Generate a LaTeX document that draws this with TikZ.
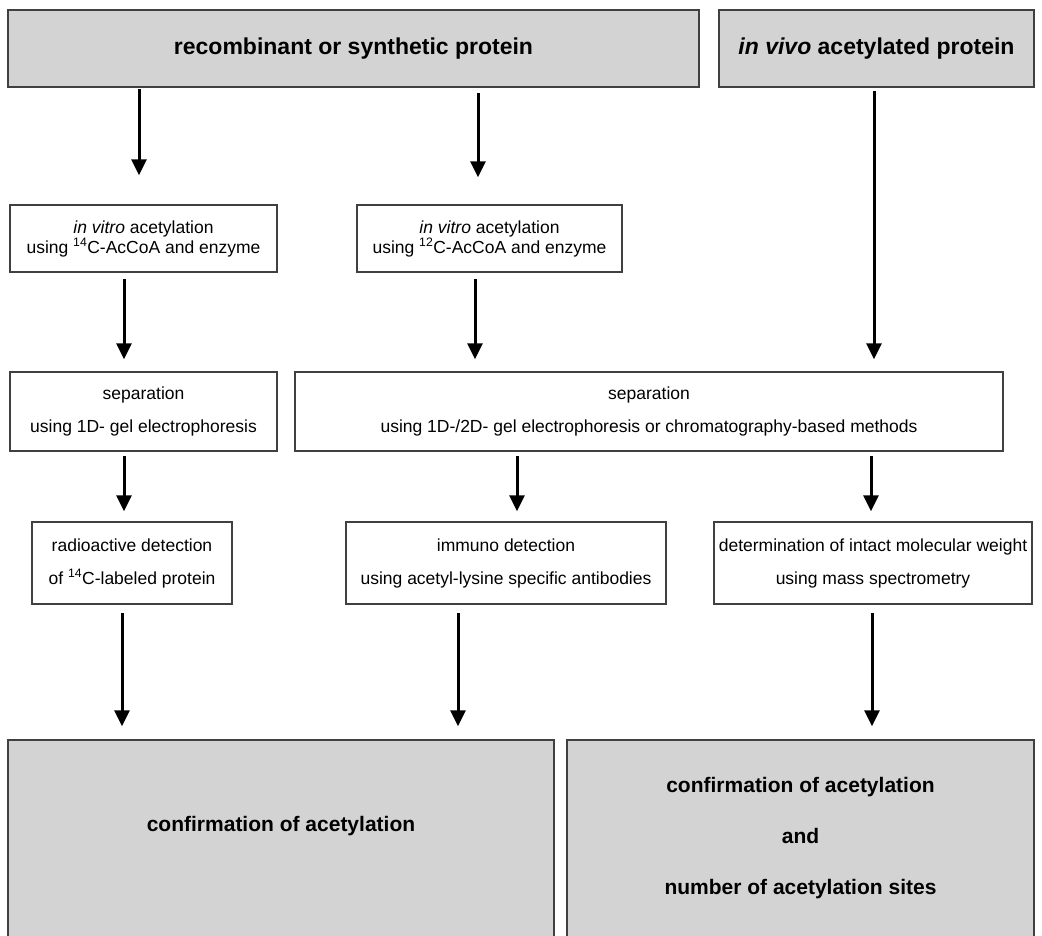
\documentclass[tikz,border=0pt]{standalone}
\usepackage{fontspec}
\setmainfont{Liberation Sans}
\usepackage{tikz}
\usetikzlibrary{arrows.meta}

\definecolor{boxline}{RGB}{64,64,64}
\definecolor{boxgrey}{RGB}{211,211,211}

\begin{document}
\begin{tikzpicture}[x=1pt,y=-1pt,
	box/.style={shape=rectangle,draw=boxline,line width=1.5pt,fill=white,align=center,inner sep=0pt,
		font=\fontsize{17.5}{20}\selectfont},
	widebox/.style={box,font=\fontsize{17.5}{33}\selectfont},
	greybox/.style={box,fill=boxgrey,font=\bfseries\fontsize{21}{51}\selectfont},
	headbox/.style={greybox,font=\bfseries\fontsize{23}{26}\selectfont},
	label/.style={align=center,inner sep=0pt,font=\bfseries\fontsize{21}{51}\selectfont},
	arr/.style={line width=3pt,-{Triangle[width=15pt,length=16pt]}}]
	\useasboundingbox (0,0) rectangle (1042,935);
	\clip (0,0) rectangle (1042,935);

	\node[headbox,minimum width=691pt,minimum height=77pt] (rec) at (353.5,48.5) {recombinant or synthetic protein};
	\node[headbox,minimum width=315pt,minimum height=77pt] (vivo) at (876.5,48.5) {\textit{in vivo} acetylated protein};

	\node[box,minimum width=267pt,minimum height=67pt] (acC14) at (143.5,238.5) {\textit{in vitro} acetylation\\using \textsuperscript{14}C-AcCoA and enzyme};
	\node[box,minimum width=265pt,minimum height=67pt] (acC12) at (489.5,238.5) {\textit{in vitro} acetylation\\using \textsuperscript{12}C-AcCoA and enzyme};

	\node[widebox,minimum width=267pt,minimum height=79pt] (sepA) at (143.5,411.5) {separation\\using 1D- gel electrophoresis};
	\node[widebox,minimum width=708pt,minimum height=79pt] (sepB) at (649,411.5) {separation\\using 1D-/2D- gel electrophoresis or chromatography-based methods};

	\node[widebox,minimum width=200pt,minimum height=82pt] (radio) at (132,563) {radioactive detection\\of \textsuperscript{14}C-labeled protein};
	\node[widebox,minimum width=320pt,minimum height=82pt] (immuno) at (506,563) {immuno detection\\using acetyl-lysine specific antibodies};
	\node[widebox,minimum width=318pt,minimum height=82pt] (mass) at (873,563) {determination of intact molecular weight\\using mass spectrometry};

	\node[greybox,minimum width=546pt,minimum height=210pt] (confA) at (281,845) {};
	\node[greybox,minimum width=467pt,minimum height=210pt] (confB) at (800.5,845) {};
	\node[label] (confAtext) at (281,826) {confirmation of acetylation};
	\node[label] (confBtext) at (800.5,838) {confirmation of acetylation\\and\\number of acetylation sites};

	\draw[arr,shorten <=1pt,shorten >=29pt] ([xshift=-4.5pt]acC14.north |- rec.south) -- ([xshift=-4.5pt]acC14.north);
	\draw[arr,shorten <=5pt,shorten >=27pt] ([xshift=-11.5pt]acC12.north |- rec.south) -- ([xshift=-11.5pt]acC12.north);
	\draw[arr,shorten <=3pt,shorten >=12pt] ([xshift=-2.5pt]vivo.south) -- ([xshift=-2.5pt]vivo.south |- sepB.north);

	\draw[arr,shorten <=6pt,shorten >=12pt] ([xshift=-19.5pt]acC14.south) -- ([xshift=-19.5pt]acC14.south |- sepA.north);
	\draw[arr,shorten <=6pt,shorten >=12pt] ([xshift=-14.5pt]acC12.south) -- ([xshift=-14.5pt]acC12.south |- sepB.north);

	\draw[arr,shorten <=4pt,shorten >=10pt] ([xshift=-8pt]radio.north |- sepA.south) -- ([xshift=-8pt]radio.north);
	\draw[arr,shorten <=4pt,shorten >=10pt] ([xshift=11pt]immuno.north |- sepB.south) -- ([xshift=11pt]immuno.north);
	\draw[arr,shorten <=4pt,shorten >=10pt] ([xshift=-2pt]mass.north |- sepB.south) -- ([xshift=-2pt]mass.north);

	\draw[arr,shorten <=8pt,shorten >=13pt] ([xshift=-10pt]radio.south) -- ([xshift=-10pt]radio.south |- confA.north);
	\draw[arr,shorten <=8pt,shorten >=13pt] ([xshift=-48pt]immuno.south) -- ([xshift=-48pt]immuno.south |- confA.north);
	\draw[arr,shorten <=8pt,shorten >=13pt] ([xshift=-1pt]mass.south) -- ([xshift=-1pt]mass.south |- confB.north);
\end{tikzpicture}
\end{document}
